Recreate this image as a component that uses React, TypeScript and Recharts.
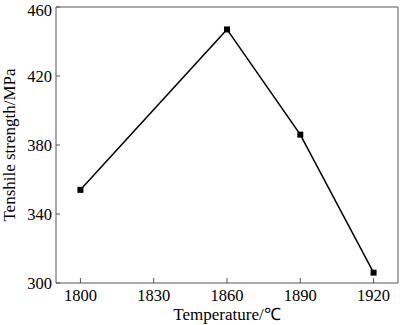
import React from 'react';
import { LineChart, Line, XAxis, YAxis, ReferenceLine } from 'recharts';

const temperatures = [1800, 1860, 1890, 1920];
const strengths = [354, 447, 386, 306];
const xTicks = [1800, 1830, 1860, 1890, 1920];
const yTicks = [300, 340, 380, 420, 460];

const data = temperatures.map((t, i) => ({ t, v: strengths[i] }));

const font = '"Liberation Serif", "Times New Roman", serif';
const axisColor = '#555';

const Square = (props: any) => {
  const { cx, cy } = props;
  if (cx == null || cy == null) return null;
  return <rect x={cx - 3} y={cy - 3} width={6} height={6} fill="#000" />;
};

export default function App() {
  return (
    <div style={{ position: 'absolute', left: 0, top: 0, width: 400, height: 325, background: '#fff' }}>
      <LineChart width={400} height={325} data={data} margin={{ top: 7, right: 2, bottom: 0, left: 0 }}>
        <XAxis
          dataKey="t"
          type="number"
          domain={[1790, 1930]}
          ticks={xTicks}
          tickSize={-5}
          tickMargin={11}
          height={42}
          stroke={axisColor}
          tick={{ fill: '#000', fontSize: 16.5, fontFamily: font }}
          label={{ value: 'Temperature/℃', position: 'insideBottom', offset: 5, fill: '#000', fontSize: 17, fontFamily: font }}
        />
        <YAxis
          type="number"
          domain={[300, 460]}
          ticks={yTicks}
          tickSize={-4}
          tickMargin={8}
          width={56}
          stroke={axisColor}
          tick={{ fill: '#000', fontSize: 16.5, fontFamily: font }}
          label={{ value: 'Tenshile strength/MPa', angle: -90, position: 'insideLeft', offset: 9, fill: '#000', fontSize: 17, fontFamily: font, style: { textAnchor: 'middle' } }}
        />
        <ReferenceLine y={460} stroke={axisColor} />
        <ReferenceLine x={1930} stroke={axisColor} />
        <Line
          dataKey="v"
          stroke="#000"
          strokeWidth={1.5}
          dot={<Square />}
          activeDot={false}
          isAnimationActive={false}
        />
      </LineChart>
    </div>
  );
}
